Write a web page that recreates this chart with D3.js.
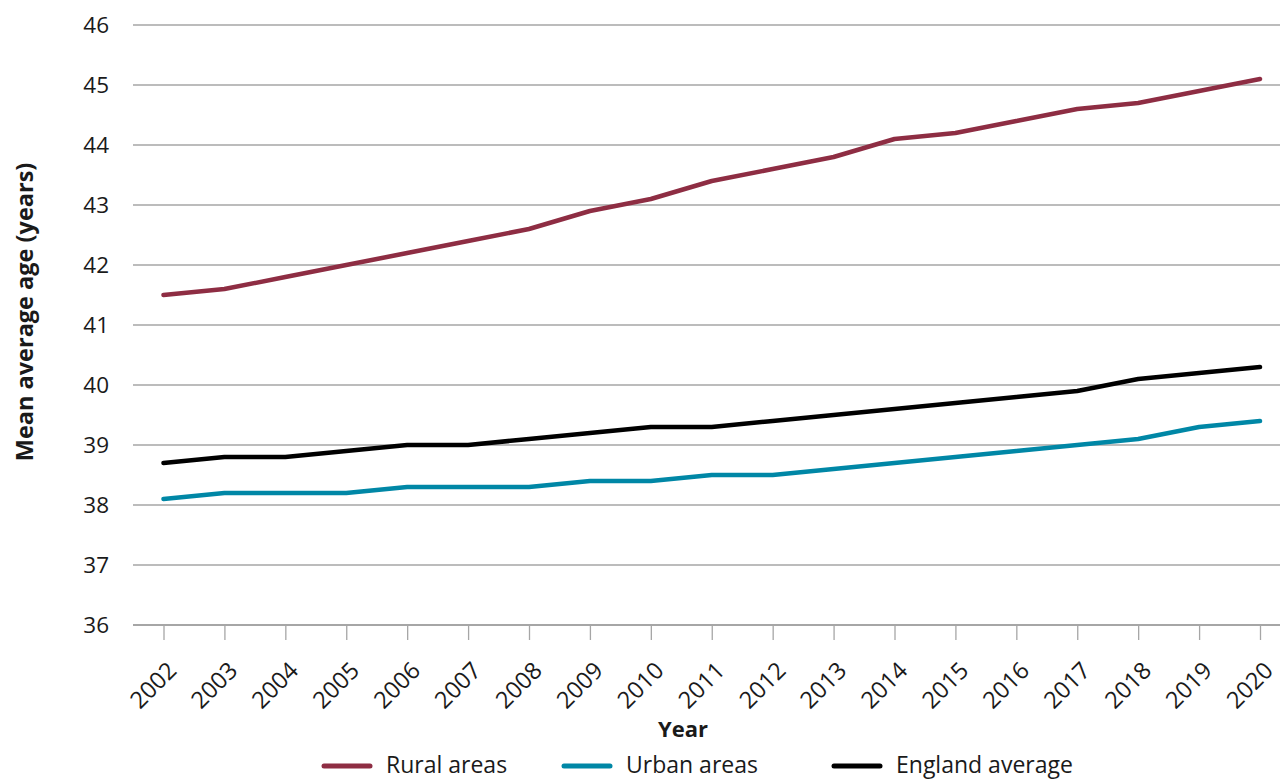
<!DOCTYPE html>
<html>
<head>
<meta charset="utf-8">
<script src="https://cdn.jsdelivr.net/npm/d3@7"></script>
<style>
  html, body { margin: 0; padding: 0; background: #fff; }
  svg { display: block; }
</style>
</head>
<body>
<svg id="chart" width="1280" height="780"></svg>
<script>
// Mean average age by area type, England, 2002–2020
const years = ["2002","2003","2004","2005","2006","2007","2008","2009","2010","2011",
               "2012","2013","2014","2015","2016","2017","2018","2019","2020"];
const rural   = [41.5,41.6,41.8,42.0,42.2,42.4,42.6,42.9,43.1,43.4,43.6,43.8,44.1,44.2,44.4,44.6,44.7,44.9,45.1];
const urban   = [38.1,38.2,38.2,38.2,38.3,38.3,38.3,38.4,38.4,38.5,38.5,38.6,38.7,38.8,38.9,39.0,39.1,39.3,39.4];
const england = [38.7,38.8,38.8,38.9,39.0,39.0,39.1,39.2,39.3,39.3,39.4,39.5,39.6,39.7,39.8,39.9,40.1,40.2,40.3];
const yTicks  = [36,37,38,39,40,41,42,43,44,45,46];

const seriesNames  = ["Rural areas", "Urban areas", "England average"];
const seriesValues = [rural, urban, england];
const seriesColors = ["#8e2d43", "#0087a6", "#000000"];

const svg = d3.select("#chart");
const font = "'Open Sans', 'Noto Sans', sans-serif";

const x = d3.scalePoint().domain(years).range([163.5, 1260]);
const y = d3.scaleLinear().domain([36, 46]).range([625, 25]);
const gridLeft = 133, gridRight = 1280;

// horizontal gridlines
svg.append("g").selectAll("line").data(yTicks.filter(d => d !== 36)).join("line")
  .attr("x1", gridLeft).attr("x2", gridRight)
  .attr("y1", d => y(d)).attr("y2", d => y(d))
  .attr("stroke", "#a6a6a6").attr("stroke-width", 1.3);

// y tick labels
svg.append("g").selectAll("text").data(yTicks).join("text")
  .attr("x", 109).attr("y", d => y(d))
  .attr("dy", "0.36em")
  .attr("text-anchor", "end")
  .attr("font-family", font).attr("font-size", 22.5).attr("fill", "#1a1a1a")
  .text(d => d);

// x axis with ticks at each year
const xAxis = d3.axisBottom(x).tickSize(15).tickSizeOuter(0).tickPadding(6);
const gx = svg.append("g").attr("transform", "translate(0,625)").call(xAxis);
gx.select(".domain").remove();
gx.insert("line", ":first-child")
  .attr("x1", gridLeft).attr("x2", gridRight).attr("y1", 0).attr("y2", 0)
  .attr("stroke", "#a6a6a6").attr("stroke-width", 2);
gx.selectAll(".tick line").attr("stroke", "#a6a6a6").attr("stroke-width", 1.3);
gx.selectAll(".tick text")
  .attr("font-family", font).attr("font-size", 23.5).attr("fill", "#1a1a1a")
  .attr("text-anchor", "end")
  .attr("dy", null).attr("y", 0)
  .attr("transform", "translate(14,47) rotate(-45)");

// lines
const line = d3.line().x((d, i) => x(years[i])).y(d => y(d));
svg.append("g").selectAll("path").data(seriesValues).join("path")
  .attr("d", d => line(d))
  .attr("fill", "none")
  .attr("stroke", (d, i) => seriesColors[i])
  .attr("stroke-width", 4.5)
  .attr("stroke-linecap", "round")
  .attr("stroke-linejoin", "round");

// axis titles
svg.append("text")
  .attr("transform", "translate(33,312) rotate(-90)")
  .attr("text-anchor", "middle")
  .attr("font-family", font).attr("font-weight", "bold").attr("font-size", 23.5).attr("fill", "#1a1a1a")
  .text("Mean average age (years)");

svg.append("text")
  .attr("x", 683).attr("y", 737)
  .attr("text-anchor", "middle")
  .attr("font-family", font).attr("font-weight", "bold").attr("font-size", 22).attr("fill", "#1a1a1a")
  .text("Year");

// legend
const legendX = [324, 564, 834];
const lg = svg.append("g").selectAll("g").data(seriesNames).join("g")
  .attr("transform", (d, i) => `translate(${legendX[i]},766)`);
lg.append("line")
  .attr("x1", 0).attr("x2", 46).attr("y1", 0).attr("y2", 0)
  .attr("stroke", (d, i) => seriesColors[i]).attr("stroke-width", 5).attr("stroke-linecap", "round");
lg.append("text")
  .attr("x", 62).attr("y", 0).attr("dy", "0.3em")
  .attr("font-family", font).attr("font-size", 23).attr("fill", "#1a1a1a")
  .text(d => d);
</script>
</body>
</html>
